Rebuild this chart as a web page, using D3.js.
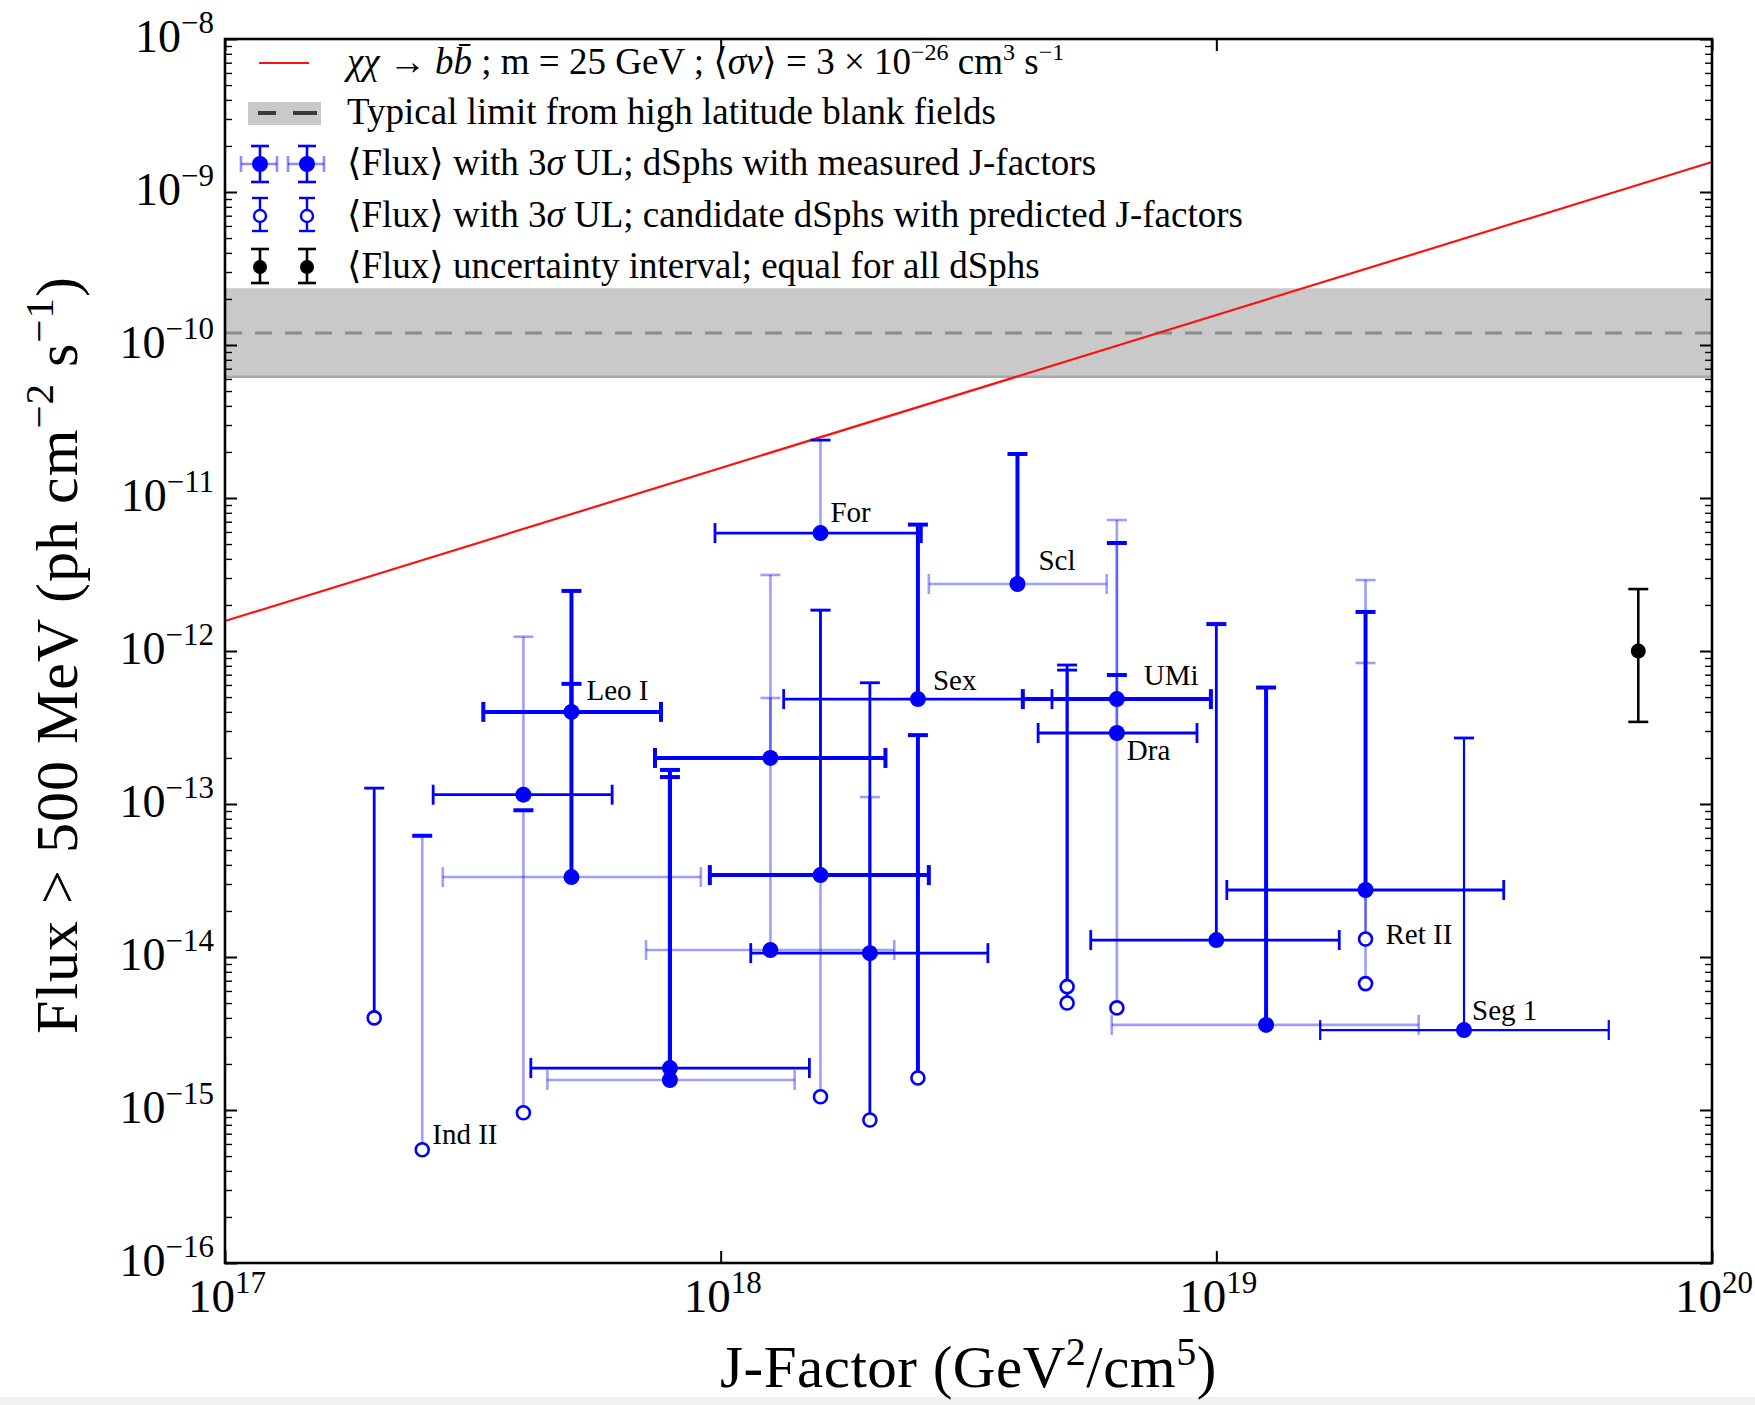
<!DOCTYPE html>
<html>
<head>
<meta charset="utf-8">
<script src="https://cdn.jsdelivr.net/npm/d3@7"></script>
<style>
  html, body { margin: 0; padding: 0; background: #fff; }
  svg { display: block; }
  text { font-family: "Liberation Serif", "DejaVu Serif", serif; fill: #000; }
</style>
</head>
<body>
<svg id="chart" width="1755" height="1405"></svg>
<script>
// ---------------------------------------------------------------
// Dwarf spheroidal galaxies: J-factor and <Flux> (> 500 MeV) with 3σ UL
// ---------------------------------------------------------------
const names = ["", "Ind II", "", "", "Leo I", "", "", "", "", "", "For", "", "", "", "",
               "Sex", "", "Scl", "", "", "UMi", "Dra", "", "", "", "", "Ret II", "", "Seg 1"];
// J-factor (GeV^2/cm^5)
const jFactor = [2.0e17, 2.5e17, 4.0e17, 4.0e17, 5.0e17, 5.0e17, 7.9e17, 7.9e17, 1.26e18, 1.26e18,
                 1.59e18, 1.59e18, 1.59e18, 2.0e18, 2.0e18, 2.5e18, 2.5e18, 3.97e18, 5.0e18, 5.0e18,
                 6.3e18, 6.3e18, 6.3e18, 1.0e19, 1.26e19, 2.0e19, 2.0e19, 2.0e19, 3.16e19];
// J-factor uncertainty (null: predicted J-factor, no interval)
const jLow  = [null, null, 2.63e17, null, 3.32e17, 2.75e17, 4.14e17, 4.47e17, 7.37e17, 7.07e17,
               9.74e17, 9.51e17, null, 1.15e18, null, 1.34e18, null, 2.63e18, null, null,
               4.07e18, 4.37e18, null, 5.58e18, 6.15e18, 1.05e19, null, null, 1.62e19];
const jHigh = [null, null, 6.04e17, null, 7.58e17, 9.12e17, 1.51e18, 1.41e18, 2.15e18, 2.24e18,
               2.54e18, 2.63e18, null, 3.46e18, null, 4.66e18, null, 6.01e18, null, null,
               9.75e18, 9.14e18, null, 1.77e19, 2.56e19, 3.80e19, null, null, 6.19e19];
// <Flux> (ph cm^-2 s^-1)
const meanFlux = [4.0e-15, 5.5e-16, 1.15e-13, 9.6e-16, 4.0e-13, 3.33e-14, 1.88e-15, 1.57e-15, 2.0e-13, 1.11e-14,
                  5.9e-12, 3.43e-14, 1.22e-15, 1.06e-14, 8.6e-16, 4.85e-13, 1.62e-15, 2.74e-12, 6.4e-15, 5.0e-15,
                  4.85e-13, 2.91e-13, 4.65e-15, 1.29e-14, 3.6e-15, 2.74e-14, 1.31e-14, 6.7e-15, 3.33e-15];
// 3σ upper limit on the flux
const fluxUL = [1.27e-13, 6.2e-14, 1.24e-12, 9.1e-14, 2.47e-12, 6.1e-13, 1.67e-13, 1.50e-13, 3.14e-12, 4.93e-13,
                2.39e-11, 1.85e-12, 1.85e-12, 6.2e-13, 1.11e-13, 6.7e-12, 2.82e-13, 1.94e-11, 8.1e-13, 7.5e-13,
                5.08e-12, 6.97e-13, 7.18e-12, 1.50e-12, 5.77e-13, 1.80e-12, 2.91e-12, 8.35e-13, 2.70e-13];

// <Flux> uncertainty interval, common to all dSphs
const refJ = 7.1e19;
const refFlux = 1.0e-12;
const refLow = 3.44e-13;
const refHigh = 2.54e-12;

// χχ → bb̄ prediction, m = 25 GeV, <σv> = 3e-26 cm^3 s^-1
const modelJ = [1e17, 1e20];
const modelFlux = [1.57e-12, 1.57e-9];

// typical limit from high-latitude blank fields
const blankLimit = 1.2e-10;
const blankLow = 6.2e-11;
const blankHigh = 2.35e-10;

// ---------------------------------------------------------------
// drawing styles (line weight / shade) for each entry
// D: heavy, d: medium, t: thin, L: pale
// ---------------------------------------------------------------
const vStyle   = ["d","L","L","L","D","D","D","D","L","L","L","d","L","d","d","D","D","D","d","d","L","L","L","d","D","D","L","L","t"];
const hStyle   = [null,null,"d",null,"D","L","d","L","D","L","d","D",null,"d",null,"d",null,"L",null,null,"D","d",null,"d","L","d",null,null,"t"];
const capStyle = ["d","D","L","D","D","D","D","D","L","L","d","d","L","d","L","D","D","D","d","d","D","D","L","D","D","D","L","L","d"];
const STY = {
  D: { op: 1,    w: 4.0 },
  d: { op: 1,    w: 2.8 },
  t: { op: 1,    w: 2.2 },
  L: { op: 0.38, w: 2.6 }
};
const labelOffset = {
  "Leo I": [15, -12], "For": [10, -11], "Scl": [21, -14], "Sex": [15, -9], "UMi": [27, -14],
  "Dra": [10, 27], "Ret II": [20, 5], "Seg 1": [8, -10], "Ind II": [10, -6]
};

const BLUE = "#0000ff";
const W = 1755, H = 1405;
const M = { left: 225, right: 1712, top: 39, bottom: 1263 };

const svg = d3.select("#chart");
svg.append("rect").attr("width", W).attr("height", H).attr("fill", "#fff");
svg.append("rect").attr("x", 0).attr("y", 1397).attr("width", W).attr("height", 8).attr("fill", "#f2f2f2");

const x = d3.scaleLog().domain([1e17, 1e20]).range([M.left, M.right]);
const y = d3.scaleLog().domain([1e-16, 1e-8]).range([M.bottom, M.top]);

const plot = svg.append("g");

// blank-field band and its typical value
plot.append("rect")
  .attr("x", M.left).attr("width", M.right - M.left)
  .attr("y", y(blankHigh)).attr("height", y(blankLow) - y(blankHigh))
  .attr("fill", "#c9c9c9");
plot.append("line")
  .attr("x1", M.left).attr("x2", M.right)
  .attr("y1", y(blankLow)).attr("y2", y(blankLow))
  .attr("stroke", "#a9a9a9").attr("stroke-width", 2.5);
plot.append("line")
  .attr("x1", M.left).attr("x2", M.right)
  .attr("y1", y(blankLimit)).attr("y2", y(blankLimit))
  .attr("stroke", "#8c8c8c").attr("stroke-width", 3).attr("stroke-dasharray", "17 13");

// annihilation prediction
const modelPts = modelJ.map((j, i) => [j, modelFlux[i]]);
plot.append("path")
  .datum(modelPts)
  .attr("d", d3.line().x(d => x(d[0])).y(d => y(d[1])))
  .attr("fill", "none").attr("stroke", "#ff1010").attr("stroke-width", 2.2);

// ---------------------------------------------------------------
// error bars
// ---------------------------------------------------------------
const CAP = 10; // half-width of caps
const segs = [];
jFactor.forEach((j, i) => {
  const cx = x(j), cy = y(meanFlux[i]), uy = y(fluxUL[i]);
  // vertical: from <Flux> up to the 3σ UL
  segs.push({ x1: cx, y1: cy, x2: cx, y2: uy, s: vStyle[i] });
  segs.push({ x1: cx - CAP, y1: uy, x2: cx + CAP, y2: uy, s: capStyle[i] });
  // horizontal: J-factor interval
  if (jLow[i] !== null) {
    const xl = x(jLow[i]), xh = x(jHigh[i]), s = hStyle[i];
    segs.push({ x1: xl, y1: cy, x2: xh, y2: cy, s });
    segs.push({ x1: xl, y1: cy - CAP, x2: xl, y2: cy + CAP, s });
    segs.push({ x1: xh, y1: cy - CAP, x2: xh, y2: cy + CAP, s });
  }
});
const order = { L: 0, t: 1, d: 2, D: 3 };
segs.sort((a, b) => order[a.s] - order[b.s]);
plot.append("g").selectAll("line").data(segs).join("line")
  .attr("x1", d => d.x1).attr("y1", d => d.y1).attr("x2", d => d.x2).attr("y2", d => d.y2)
  .attr("stroke", BLUE)
  .attr("stroke-opacity", d => STY[d.s].op)
  .attr("stroke-width", d => STY[d.s].w);

// markers
const idx = d3.range(jFactor.length);
plot.append("g").selectAll("circle").data(idx).join("circle")
  .attr("cx", i => x(jFactor[i])).attr("cy", i => y(meanFlux[i]))
  .attr("r", i => jLow[i] === null ? 6.5 : 8)
  .attr("fill", i => jLow[i] === null ? "#fff" : BLUE)
  .attr("stroke", BLUE)
  .attr("stroke-width", i => jLow[i] === null ? 2.6 : 0);

// dSph names
plot.append("g").selectAll("text").data(idx.filter(i => names[i] !== "")).join("text")
  .attr("x", i => x(jFactor[i]) + labelOffset[names[i]][0])
  .attr("y", i => y(meanFlux[i]) + labelOffset[names[i]][1])
  .style("font-size", "29px")
  .text(i => names[i]);

// common uncertainty interval
const ref = plot.append("g").attr("stroke", "#000").attr("stroke-width", 2.6);
ref.append("line").attr("x1", x(refJ)).attr("x2", x(refJ)).attr("y1", y(refLow)).attr("y2", y(refHigh));
ref.append("line").attr("x1", x(refJ) - CAP).attr("x2", x(refJ) + CAP).attr("y1", y(refLow)).attr("y2", y(refLow));
ref.append("line").attr("x1", x(refJ) - CAP).attr("x2", x(refJ) + CAP).attr("y1", y(refHigh)).attr("y2", y(refHigh));
plot.append("circle").attr("cx", x(refJ)).attr("cy", y(refFlux)).attr("r", 7.5).attr("fill", "#000");

// ---------------------------------------------------------------
// axes
// ---------------------------------------------------------------
const decX = [1e17, 1e18, 1e19, 1e20];
const decY = d3.range(-16, -7).map(e => Math.pow(10, e));
const minorY = [];
d3.range(-16, -8).forEach(e => d3.range(2, 10).forEach(k => minorY.push(k * Math.pow(10, e))));

function styleAxis(g, w) {
  g.select(".domain").remove();
  g.selectAll(".tick line").attr("stroke", "#000").attr("stroke-width", w);
}
svg.append("g").attr("transform", `translate(0,${M.bottom})`)
  .call(d3.axisBottom(x).tickValues(decX).tickSize(-12).tickFormat(""))
  .call(g => styleAxis(g, 2));
svg.append("g").attr("transform", `translate(0,${M.top})`)
  .call(d3.axisTop(x).tickValues(decX).tickSize(-12).tickFormat(""))
  .call(g => styleAxis(g, 2));
svg.append("g").attr("transform", `translate(${M.left},0)`)
  .call(d3.axisLeft(y).tickValues(decY).tickSize(-12).tickFormat(""))
  .call(g => styleAxis(g, 2));
svg.append("g").attr("transform", `translate(${M.right},0)`)
  .call(d3.axisRight(y).tickValues(decY).tickSize(-12).tickFormat(""))
  .call(g => styleAxis(g, 2));
svg.append("g").attr("transform", `translate(${M.left},0)`)
  .call(d3.axisLeft(y).tickValues(minorY).tickSize(-7).tickFormat(""))
  .call(g => styleAxis(g, 1.4));
svg.append("g").attr("transform", `translate(${M.right},0)`)
  .call(d3.axisRight(y).tickValues(minorY).tickSize(-7).tickFormat(""))
  .call(g => styleAxis(g, 1.4));

// rich text helper: parts = [{t, sup, it}]
function rich(sel, parts, supSize, rise) {
  let up = false;
  parts.forEach(p => {
    const ts = sel.append("tspan").text(p.t);
    if (p.it) ts.style("font-style", "italic");
    if (p.sup) {
      ts.style("font-size", supSize + "px");
      if (!up) { ts.attr("dy", -rise); up = true; }
    } else if (up) {
      ts.attr("dy", rise); up = false;
    }
  });
  return sel;
}
const pow10 = v => Math.round(Math.log10(v));
const supTxt = e => (e < 0 ? "\u2212" : "") + Math.abs(e);

// decade labels
svg.append("g").selectAll("text").data(decY).join("text")
  .attr("x", M.left - 11).attr("y", d => y(d) + 13)
  .attr("text-anchor", "end").style("font-size", "46px")
  .each(function (d) { rich(d3.select(this), [{ t: "10" }, { t: supTxt(pow10(d)), sup: true }], 31, 19); });
svg.append("g").selectAll("text").data(decX).join("text")
  .attr("x", d => x(d) + 2).attr("y", M.bottom + 49)
  .attr("text-anchor", "middle").style("font-size", "47px")
  .each(function (d) { rich(d3.select(this), [{ t: "10" }, { t: supTxt(pow10(d)), sup: true }], 31, 19); });

// frame
svg.append("rect")
  .attr("x", M.left).attr("y", M.top)
  .attr("width", M.right - M.left).attr("height", M.bottom - M.top)
  .attr("fill", "none").attr("stroke", "#000").attr("stroke-width", 2.6);

// axis titles
rich(svg.append("text")
  .attr("transform", `translate(${(M.left + M.right) / 2},1387)`)
  .attr("text-anchor", "middle").style("font-size", "59px").style("letter-spacing", "0.5px"),
  [{ t: "J-Factor (GeV" }, { t: "2", sup: true }, { t: "/cm" }, { t: "5", sup: true }, { t: ")" }], 40, 22);
rich(svg.append("text")
  .attr("transform", `translate(77,${(M.top + M.bottom) / 2 + 4}) rotate(-90)`)
  .attr("text-anchor", "middle").style("font-size", "60px").style("letter-spacing", "1px"),
  [{ t: "Flux > 500 MeV (ph cm" }, { t: "\u22122", sup: true }, { t: " s" }, { t: "\u22121", sup: true }, { t: ")" }], 41, 24);

// ---------------------------------------------------------------
// legend
// ---------------------------------------------------------------
const leg = svg.append("g");
const rowY = [63, 113, 164, 216, 267];
const symX = [260, 307];
const textX = 347;
const legendText = [
  [{ t: "χχ", it: true }, { t: " \u2192 " }, { t: "b", it: true }, { t: "b\u0304", it: true }, { t: " ; m = 25 GeV ; \u27E8" },
   { t: "σv", it: true }, { t: "\u27E9 = 3 × 10" }, { t: "\u221226", sup: true }, { t: " cm" }, { t: "3", sup: true },
   { t: " s" }, { t: "\u22121", sup: true }],
  [{ t: "Typical limit from high latitude blank fields" }],
  [{ t: "\u27E8Flux\u27E9 with 3" }, { t: "σ", it: true }, { t: " UL; dSphs with measured J-factors" }],
  [{ t: "\u27E8Flux\u27E9 with 3" }, { t: "σ", it: true }, { t: " UL; candidate dSphs with predicted J-factors" }],
  [{ t: "\u27E8Flux\u27E9 uncertainty interval; equal for all dSphs" }]
];
legendText.forEach((parts, r) => {
  const t = leg.append("text").attr("x", textX).attr("y", rowY[r] + 11).style("font-size", "37px");
  rich(t, parts, 24, 14);
});
// row 1: model line
leg.append("line").attr("x1", 259).attr("x2", 309).attr("y1", rowY[0]).attr("y2", rowY[0])
  .attr("stroke", "#ff1010").attr("stroke-width", 2.2);
// row 2: band swatch with dashes
leg.append("rect").attr("x", 248).attr("y", rowY[1] - 11).attr("width", 73).attr("height", 23).attr("fill", "#c9c9c9");
[[258, 276], [293, 317]].forEach(s =>
  leg.append("line").attr("x1", s[0]).attr("x2", s[1]).attr("y1", rowY[1]).attr("y2", rowY[1])
    .attr("stroke", "#3a3a3a").attr("stroke-width", 4));
// rows 3-5: error-bar symbols
symX.forEach(sx => {
  const g3 = leg.append("g");
  const cy3 = rowY[2];
  g3.append("line").attr("x1", sx - 19).attr("x2", sx + 17).attr("y1", cy3).attr("y2", cy3)
    .attr("stroke", BLUE).attr("stroke-opacity", 0.45).attr("stroke-width", 2.6);
  [sx - 19, sx + 17].forEach(cx => g3.append("line").attr("x1", cx).attr("x2", cx).attr("y1", cy3 - 8).attr("y2", cy3 + 8)
    .attr("stroke", BLUE).attr("stroke-opacity", 0.45).attr("stroke-width", 2.6));
  g3.append("line").attr("x1", sx).attr("x2", sx).attr("y1", cy3 - 18).attr("y2", cy3 + 18).attr("stroke", BLUE).attr("stroke-width", 2.6);
  [cy3 - 18, cy3 + 18].forEach(cy => g3.append("line").attr("x1", sx - 9).attr("x2", sx + 9).attr("y1", cy).attr("y2", cy)
    .attr("stroke", BLUE).attr("stroke-width", 2.6));
  g3.append("circle").attr("cx", sx).attr("cy", cy3).attr("r", 8).attr("fill", BLUE);

  const cy4 = rowY[3];
  leg.append("line").attr("x1", sx).attr("x2", sx).attr("y1", cy4 - 18).attr("y2", cy4 + 15).attr("stroke", BLUE).attr("stroke-width", 2.4);
  [cy4 - 18, cy4 + 15].forEach(cy => leg.append("line").attr("x1", sx - 8).attr("x2", sx + 8).attr("y1", cy).attr("y2", cy)
    .attr("stroke", BLUE).attr("stroke-width", 2.4));
  leg.append("circle").attr("cx", sx).attr("cy", cy4).attr("r", 6).attr("fill", "#fff").attr("stroke", BLUE).attr("stroke-width", 2.4);

  const cy5 = rowY[4];
  leg.append("line").attr("x1", sx).attr("x2", sx).attr("y1", cy5 - 18).attr("y2", cy5 + 16).attr("stroke", "#000").attr("stroke-width", 2.6);
  [cy5 - 18, cy5 + 16].forEach(cy => leg.append("line").attr("x1", sx - 9).attr("x2", sx + 9).attr("y1", cy).attr("y2", cy)
    .attr("stroke", "#000").attr("stroke-width", 2.6));
  leg.append("circle").attr("cx", sx).attr("cy", cy5).attr("r", 7).attr("fill", "#000");
});
</script>
</body>
</html>
